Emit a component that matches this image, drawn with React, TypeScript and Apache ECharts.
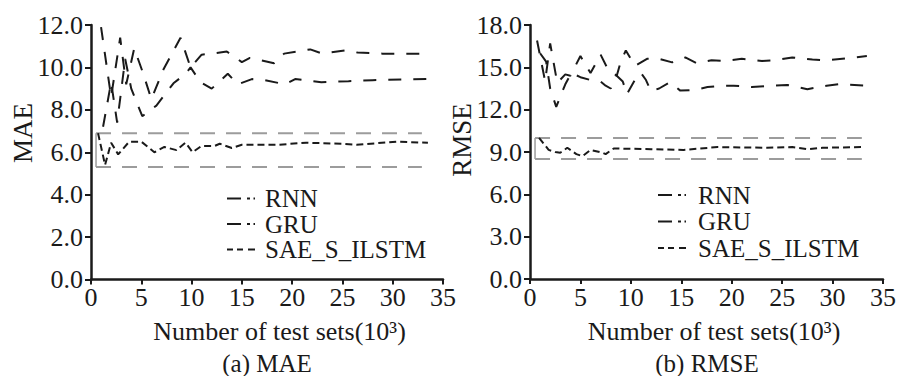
import React, { useEffect, useRef } from "react";
import * as echarts from "echarts";

// ---- data (x in thousands of test sets) ----
const maeRNN: [number, number][] = [
  [1.0, 11.9], [2.0, 8.6], [2.9, 11.4], [3.5, 9.2], [4.3, 10.9], [5.2, 9.7], [6.0, 8.5],
  [7.2, 9.9], [8.9, 11.4], [9.9, 10.0], [11.0, 10.6], [12.0, 10.65], [13.5, 10.75],
  [15.0, 10.25], [15.8, 10.45], [18.2, 10.2], [19.2, 10.65], [20.5, 10.75], [21.8, 10.85],
  [23.0, 10.65], [25.3, 10.8], [26.5, 10.7], [29.0, 10.65], [33.5, 10.65],
];
const maeGRU: [number, number][] = [
  [1.2, 7.2], [2.0, 9.3], [2.6, 7.4], [3.4, 10.4], [4.0, 9.0], [5.1, 7.7], [6.5, 8.2],
  [8.2, 9.25], [9.4, 9.7], [9.9, 10.0], [10.9, 9.3], [12.0, 9.0], [13.6, 9.7], [14.6, 9.2],
  [16.0, 9.45], [17.3, 9.4], [19.3, 9.2], [20.3, 9.45], [22.9, 9.3], [25.6, 9.35],
  [28.0, 9.4], [33.5, 9.45],
];
const maeSAE: [number, number][] = [
  [0.7, 6.9], [1.4, 5.4], [2.0, 6.45], [2.7, 5.9], [3.8, 6.5], [5.0, 6.5], [6.3, 6.0],
  [7.3, 6.25], [8.5, 6.1], [9.4, 6.45], [10.1, 6.0], [11.0, 6.3], [12.3, 6.3], [12.8, 6.4],
  [14.0, 6.2], [15.0, 6.35], [18.5, 6.35], [21.4, 6.45], [25.0, 6.4], [26.4, 6.35],
  [30.4, 6.5], [33.5, 6.45],
];
const rmseRNN: [number, number][] = [
  [0.7, 16.9], [1.5, 14.0], [2.0, 16.7], [2.7, 13.9], [3.5, 14.5], [4.0, 14.4], [5.0, 15.8],
  [6.0, 14.6], [7.0, 15.9], [7.7, 14.9], [8.6, 14.4], [9.0, 15.4], [9.5, 16.2], [10.4, 15.1],
  [11.6, 15.6], [12.8, 15.6], [14.1, 15.35], [15.4, 15.7], [16.5, 15.3], [18.0, 15.5],
  [19.2, 15.45], [21.0, 15.6], [23.0, 15.45], [24.3, 15.5], [26.0, 15.7], [28.0, 15.55],
  [29.5, 15.5], [31.5, 15.65], [33.4, 15.8],
];
const rmseGRU: [number, number][] = [
  [1.0, 16.0], [1.6, 15.4], [2.0, 13.5], [2.6, 12.2], [3.5, 13.8], [4.1, 14.6], [5.0, 14.3],
  [6.0, 14.1], [7.0, 14.0], [7.5, 13.7], [8.0, 13.5], [8.6, 14.4], [9.2, 14.0], [9.6, 13.1],
  [10.4, 14.1], [11.0, 14.6], [11.5, 14.1], [12.0, 13.3], [12.8, 13.5], [13.9, 13.95],
  [14.9, 13.35], [16.3, 13.4], [17.6, 13.6], [19.0, 13.7], [20.2, 13.7], [22.0, 13.6],
  [24.2, 13.7], [25.5, 13.75], [27.5, 13.45], [29.4, 13.7], [30.6, 13.8], [33.3, 13.7],
];
const rmseSAE: [number, number][] = [
  [0.9, 10.0], [1.85, 9.15], [2.5, 9.0], [3.0, 8.95], [3.7, 9.3], [4.6, 8.85], [5.2, 8.7],
  [6.0, 9.15], [7.2, 8.95], [7.5, 8.85], [8.3, 9.25], [12.0, 9.2], [15.2, 9.15],
  [18.6, 9.35], [23.5, 9.3], [26.0, 9.35], [27.5, 9.2], [29.0, 9.3], [33.1, 9.35],
];
const maeBand = [5.3, 6.9];
const rmseBand = [8.5, 10.0];
const bandX = [0.5, 32.9];
const yMax = [12, 18];
const yStep = [2, 3];
const xMax = 35;
const xStep = 5;
const legendNames = ["RNN", "GRU", "SAE_S_ILSTM"];
const yTitles = ["MAE", "RMSE"];
const captions = ["(a) MAE", "(b) RMSE"];
const xTitle = "Number of test sets(10³)";

export default function App() {
  const ref = useRef<HTMLDivElement>(null);
  useEffect(() => {
    const chart = echarts.init(ref.current!, null, { renderer: "svg" });
    const FONT = "Liberation Serif";
    const ink = "#1a1a1a";
    const gray = "#9c9c9c";
    const grids = [
      { left: 91, top: 25, width: 352, height: 254.5 },
      { left: 530, top: 25, width: 353, height: 254 },
    ];
    const xAxes = [0, 1].map((i) => ({
      type: "value",
      gridIndex: i,
      min: 0,
      max: xMax,
      interval: xStep,
      axisLine: { lineStyle: { color: ink, width: 2.5 } },
      axisTick: { show: true, length: 5, lineStyle: { color: ink, width: 2 } },
      axisLabel: { fontSize: 26, fontFamily: FONT, color: ink, margin: 5 },
      splitLine: { show: false },
    }));
    const yAxes = [0, 1].map((i) => ({
      type: "value",
      gridIndex: i,
      min: 0,
      max: yMax[i],
      interval: yStep[i],
      axisLine: { show: true, lineStyle: { color: ink, width: 2.5 } },
      axisTick: { show: true, length: 6, lineStyle: { color: ink, width: 2 } },
      axisLabel: {
        fontSize: 26,
        fontFamily: FONT,
        color: ink,
        margin: 8,
        formatter: (v: number) => v.toFixed(1),
      },
      splitLine: { show: false },
    }));
    const dashLong = [13, 12];
    const dashShort = [7, 4];
    const mk = (data: [number, number][], idx: number, dash: number[]) => ({
      type: "line",
      xAxisIndex: idx,
      yAxisIndex: idx,
      data,
      showSymbol: false,
      silent: true,
      lineStyle: { color: ink, width: 2, type: dash },
    });
    const band = (idx: number, b: number[]) => [
      {
        type: "line", xAxisIndex: idx, yAxisIndex: idx, showSymbol: false, silent: true,
        data: [[bandX[0], b[1]], [bandX[1], b[1]]],
        lineStyle: { color: gray, width: 2, type: [15, 11] },
      },
      {
        type: "line", xAxisIndex: idx, yAxisIndex: idx, showSymbol: false, silent: true,
        data: [[bandX[0], b[0]], [bandX[1], b[0]]],
        lineStyle: { color: gray, width: 2, type: [15, 11] },
      },
      {
        type: "line", xAxisIndex: idx, yAxisIndex: idx, showSymbol: false, silent: true,
        data: [[bandX[0], b[0]], [bandX[0], b[1]]],
        lineStyle: { color: gray, width: 1.5, type: "solid" },
      },
    ];
    const series = [
      ...band(0, maeBand),
      ...band(1, rmseBand),
      mk(maeRNN, 0, dashLong),
      mk(maeGRU, 0, dashLong),
      mk(maeSAE, 0, dashShort),
      mk(rmseRNN, 1, dashLong),
      mk(rmseGRU, 1, dashLong),
      mk(rmseSAE, 1, dashShort),
    ];

    const seg = (x1: number, x2: number, y: number) => ({
      type: "line",
      shape: { x1, y1: y, x2, y2: y },
      style: { stroke: ink, lineWidth: 2 },
      silent: true,
    });
    const txt = (text: string, x: number, y: number, size: number, align = "left", rotation = 0) => ({
      type: "text",
      x,
      y,
      rotation,
      silent: true,
      style: {
        text,
        fontSize: size,
        fontFamily: FONT,
        fill: ink,
        align,
        verticalAlign: "middle",
      },
    });
    const legendBlock = (x0: number, rows: number[], tx: number) => {
      const els: any[] = [];
      rows.forEach((y, i) => {
        if (i < 2) {
          els.push(seg(x0, x0 + 14, y), seg(x0 + 20, x0 + 23, y), seg(x0 + 26.5, x0 + 28, y));
        } else {
          els.push(seg(x0, x0 + 6, y), seg(x0 + 10, x0 + 16, y), seg(x0 + 21, x0 + 28, y));
        }
        els.push(txt(legendNames[i], tx, y, 25));
      });
      return els;
    };
    const graphic = [
      ...legendBlock(227, [198.5, 224, 249.5], 265),
      ...legendBlock(658, [195, 221.5, 248], 698),
      txt(yTitles[0], 23, 133, 27, "center", Math.PI / 2),
      txt(yTitles[1], 462, 140, 27, "center", Math.PI / 2),
      txt(xTitle, 279.5, 331, 26, "center"),
      txt(xTitle, 714, 331, 26, "center"),
      txt(captions[0], 267, 363, 25, "center"),
      txt(captions[1], 707, 363, 25, "center"),
    ];

    chart.setOption({
      animation: false,
      backgroundColor: "#ffffff",
      grid: grids,
      xAxis: xAxes,
      yAxis: yAxes,
      series,
      graphic,
    });
    return () => chart.dispose();
  }, []);
  return (
    <div
      ref={ref}
      style={{ position: "fixed", left: 0, top: 0, width: 901, height: 376, background: "#fff" }}
    />
  );
}
